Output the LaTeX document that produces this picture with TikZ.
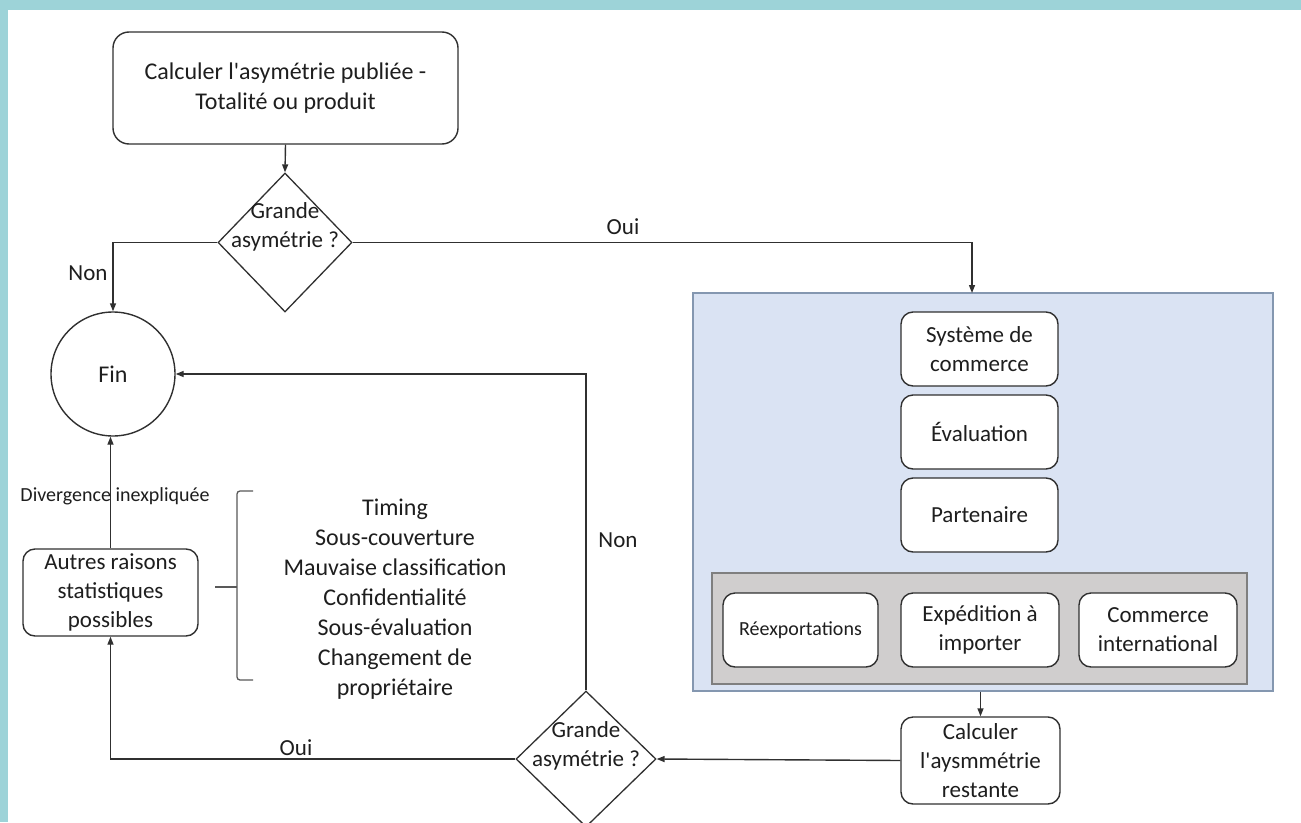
\documentclass[tikz,border=0pt]{standalone}
\usepackage{fontspec}
\setmainfont{Carlito}
\newfontfamily\apf{Carlito}
\usetikzlibrary{shapes.geometric,arrows.meta}
\definecolor{tealbg}{HTML}{9DD3D8}
\definecolor{linec}{HTML}{303030}
\definecolor{txtc}{HTML}{1E1E1E}
\definecolor{bluefill}{HTML}{DAE3F3}
\definecolor{blueline}{HTML}{8497B0}
\definecolor{grayfill}{HTML}{D0CECE}
\definecolor{grayline}{HTML}{7F7F7F}
\newcommand{\fbig}{\fontsize{24}{30}\selectfont}
\newcommand{\fmid}{\fontsize{23}{29}\selectfont}
\newcommand{\fsmall}{\fontsize{20}{24}\selectfont}
\newcommand{\apo}{{\apf'}}
\begin{document}
\begin{tikzpicture}[x=1pt,y=-1pt,
  rbox/.style={draw=linec,line width=1.4pt,rounded corners=12pt,fill=white,align=center,inner sep=0pt,text=txtc,font=\fmid},
  dia/.style={draw=linec,line width=1.3pt,diamond,fill=white,inner sep=0pt},
  lbl/.style={text=txtc,align=center,inner sep=0pt},
  conn/.style={draw=linec,line width=1.4pt},
  arr/.style={conn,-{Triangle[length=8pt,width=6pt]}}]
\useasboundingbox (0,0) rectangle (1301,822);
\fill[tealbg] (0,0) rectangle (1301,822);
\fill[white] (8,10) rectangle (1301,822);

% top box and first decision
\node[rbox,font=\fbig,minimum width=345pt,minimum height=112pt,rounded corners=16pt] (top) at (285.5,88) {Calculer l\apo asymétrie publiée -\\Totalité ou produit};
\node[dia,minimum width=134pt,minimum height=139pt] (d1) at (285,242.5) {};
\node[lbl,font=\fmid] (d1t) at (285,227) {Grande\\asymétrie ?};

% end circle
\node[draw=linec,line width=1.4pt,circle,minimum size=124pt,inner sep=0pt,font=\fbig,text=txtc] (fin) at (113,374) {Fin};

% panels
\node[draw=blueline,fill=bluefill,line width=1.2pt,minimum width=580pt,minimum height=398pt,inner sep=0pt] (panel) at (983,492) {};
\node[draw=grayline,fill=grayfill,line width=1.2pt,minimum width=535pt,minimum height=111pt,inner sep=0pt] (gpanel) at (979.5,628.5) {};
\coordinate (pin) at (972,293);

\node[rbox,minimum width=157pt,minimum height=74pt] (sys) at (979.5,349) {Système de\\commerce};
\node[rbox,minimum width=157pt,minimum height=74pt] (eval) at (979.5,432) {Évaluation};
\node[rbox,minimum width=157pt,minimum height=74pt] (part) at (979.5,515) {Partenaire};

\node[rbox,font=\fsmall,minimum width=155pt,minimum height=74pt] (reexp) at (800.5,630) {Réexportations};
\node[rbox,minimum width=158pt,minimum height=74pt] (exped) at (980,630) {Expédition à\\importer};
\node[rbox,minimum width=158pt,minimum height=74pt] (comm) at (1158,630) {Commerce\\international};

\node[rbox,minimum width=159pt,minimum height=87pt] (calc) at (980.5,760.5) {Calculer\\l\apo aysmmétrie\\restante};

% second decision
\node[dia,minimum width=140pt,minimum height=136pt] (d2) at (586,759) {};
\node[lbl,font=\fmid] (d2t) at (586,746) {Grande\\asymétrie ?};

% other reasons
\node[rbox,minimum width=175pt,minimum height=87pt] (autres) at (110.5,592.5) {Autres raisons\\statistiques\\possibles};
\node[lbl,font=\fbig] (list) at (395,599) {Timing\\Sous-couverture\\Mauvaise classification\\Confidentialité\\Sous-évaluation\\Changement de\\propriétaire};
\draw[draw=linec!80,line width=1.3pt,rounded corners=3pt] (253,491) -- (237,491) -- (237,680) -- (253,680);
\draw[draw=linec!80,line width=1.3pt] (215,587) -- (237,587);

% connectors
\draw[arr] (top.south) -- (d1.north);
\draw[arr] (d1.west) -| (fin.north);
\draw[arr] (d1.east) -| (pin);
\draw[arr] (calc.north |- panel.south) -- (calc.north);
\draw[arr] (calc.west) -- (d2.east);
\draw[arr] (d2.north) |- (fin);
\draw[arr] (d2.west) -| (autres.south);
\draw[arr] (autres.north) -- (autres.north |- fin.south);

% labels
\node[lbl,font=\fmid] (lnon1) at (88,273) {Non};
\node[lbl,font=\fmid] (loui1) at (623,227) {Oui};
\node[lbl,font=\fmid] (lnon2) at (618,540) {Non};
\node[lbl,font=\fmid] (loui2) at (296,748) {Oui};
\node[lbl,font=\fsmall] (ldiv) at (115,496) {Divergence inexpliquée};
\end{tikzpicture}
\end{document}
